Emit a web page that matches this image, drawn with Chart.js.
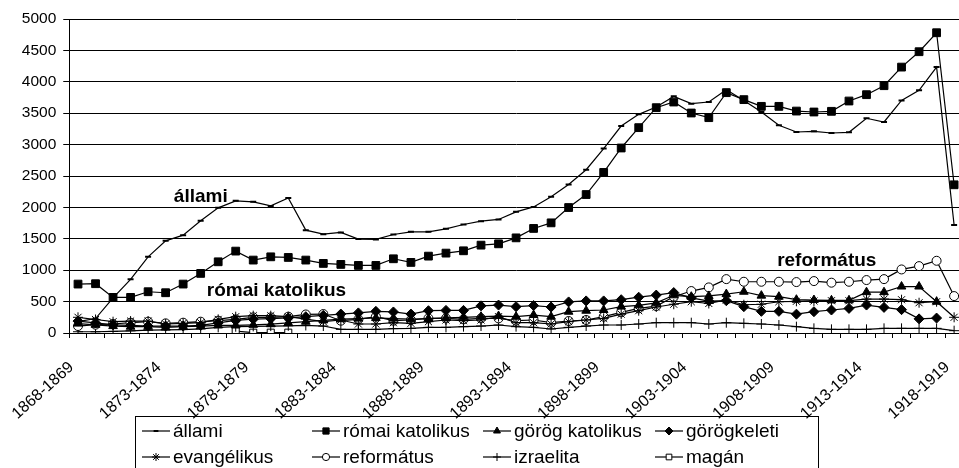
<!DOCTYPE html>
<html>
<head>
<meta charset="utf-8">
<script src="https://cdn.jsdelivr.net/npm/chart.js@4.4.1/dist/chart.umd.min.js"></script>
<style>
  html, body { margin: 0; padding: 0; overflow: hidden; background: #fff; }
  #wrap { position: relative; width: 981px; height: 468px; }
</style>
</head>
<body>
<div id="wrap"><canvas id="chart"></canvas></div>
<script>
const years = [
  '1868-1869', '1869-1870', '1870-1871', '1871-1872', '1872-1873', '1873-1874', '1874-1875', '1875-1876', '1876-1877', '1877-1878',
  '1878-1879', '1879-1880', '1880-1881', '1881-1882', '1882-1883', '1883-1884', '1884-1885', '1885-1886', '1886-1887', '1887-1888',
  '1888-1889', '1889-1890', '1890-1891', '1891-1892', '1892-1893', '1893-1894', '1894-1895', '1895-1896', '1896-1897', '1897-1898',
  '1898-1899', '1899-1900', '1900-1901', '1901-1902', '1902-1903', '1903-1904', '1904-1905', '1905-1906', '1906-1907', '1907-1908',
  '1908-1909', '1909-1910', '1910-1911', '1911-1912', '1912-1913', '1913-1914', '1914-1915', '1915-1916', '1916-1917', '1917-1918',
  '1918-1919'
];

const allami = [180, 230, 560, 854, 1213, 1468, 1558, 1786, 1993, 2104,
  2088, 2024, 2151, 1638, 1574, 1601, 1495, 1490, 1569, 1611,
  1611, 1659, 1728, 1781, 1808, 1929, 2008, 2168, 2364, 2600,
  2936, 3296, 3482, 3598, 3768, 3652, 3678, 3875, 3704, 3519,
  3307, 3201, 3212, 3185, 3196, 3419, 3360, 3704, 3864, 4234,
  1720];
const romaiKat = [779, 785, 567, 567, 657, 641, 779, 949, 1134, 1304,
  1161, 1213, 1203, 1161, 1108, 1092, 1076, 1076, 1182, 1124,
  1224, 1272, 1309, 1399, 1420, 1515, 1665, 1754, 1998, 2205,
  2557, 2946, 3270, 3588, 3678, 3503, 3429, 3827, 3716, 3609,
  3609, 3534, 3519, 3530, 3694, 3795, 3938, 4234, 4479, 4781,
  2360];
const gorogKat = [150, 130, 110, 100, 100, 90, 100, 110, 120, 120,
  130, 140, 160, 180, 200, 220, 230, 240, 230, 220,
  230, 240, 250, 260, 270, 260, 286, 260, 339, 355,
  366, 420, 440, 480, 600, 578, 590, 620, 657, 595,
  578, 530, 525, 520, 520, 650, 650, 740, 740, 498,
  null];
const gorogkeleti = [190, 160, 130, 120, 110, 110, 110, 120, 160, 200,
  220, 230, 240, 260, 280, 302, 320, 345, 335, 302,
  355, 360, 360, 432, 445, 419, 437, 414, 495, 511,
  511, 530, 570, 604, 644, 560, 509, 514, 419, 345,
  345, 300, 339, 366, 392, 445, 408, 372, 225, 238,
  null];
const evangelikus = [250, 215, 180, 190, 190, 143, 154, 164, 217, 260,
  276, 276, 260, 220, 180, 207, 143, 143, 164, 154,
  180, 207, 196, 207, 260, 164, 164, 143, 180, 207,
  233, 300, 355, 414, 458, 498, 470, 525, 450, 458,
  498, 505, 510, 514, 514, 540, 540, 530, 482, 498,
  250];
const reformatus = [111, 132, 143, 164, 180, 154, 164, 180, 196, 217,
  249, 249, 260, 295, 302, 196, 217, 260, 196, 207,
  233, 233, 217, 233, 233, 196, 207, 164, 191, 207,
  260, 329, 392, 429, 578, 668, 726, 858, 816, 816,
  816, 811, 827, 801, 816, 843, 858, 1012, 1065, 1150,
  588];
const izraelita = [20, 20, 25, 35, 45, 50, 55, 65, 90, 100,
  105, 110, 115, 120, 111, 58, 58, 58, 70, 74,
  90, 90, 101, 111, 127, 101, 90, 64, 90, 111,
  127, 127, 143, 164, 164, 164, 143, 164, 154, 143,
  127, 101, 74, 58, 58, 58, 74, 74, 74, 74,
  37];
const magan = [null, null, null, null, null, null, null, null, null, 30,
  5, 5, 5, null, null, null, null, null, null, null,
  null, null, null, null, null, null, null, null, null, null,
  null, null, null, null, null, null, null, null, null, null,
  null, null, null, null, null, null, null, null, null, null,
  null];

const seriesNames = ['állami', 'római katolikus', 'görög katolikus', 'görögkeleti',
  'evangélikus', 'református', 'izraelita', 'magán'];
const noteTexts = ['állami', 'római katolikus', 'református'];

const FONT = '"Liberation Sans", Arial, sans-serif';

function series(label, data, style, radius, fill) {
  return {
    label, data,
    borderColor: '#000',
    borderWidth: 1.2,
    pointStyle: style,
    pointRadius: radius,
    pointHoverRadius: radius,
    pointBackgroundColor: fill,
    pointBorderColor: '#000',
    pointBorderWidth: style === 'line' ? 2 : 1,
    tension: 0,
    spanGaps: false
  };
}

// legend drawn as a boxed 4-column grid, like the original
const gridLegend = {
  id: 'gridLegend',
  afterDraw(chart) {
    const ctx = chart.ctx;
    ctx.save();
    ctx.strokeStyle = '#000';
    ctx.lineWidth = 1;
    ctx.strokeRect(135.5, 416.5, 683, 80);
    ctx.font = '19px ' + FONT;
    ctx.textBaseline = 'middle';
    const cols = [142, 312, 483, 655], rows = [431, 457];
    chart.data.datasets.forEach((ds, k) => {
      const x = cols[k % 4], y = rows[Math.floor(k / 4)];
      ctx.strokeStyle = '#000';
      ctx.lineWidth = 1.2;
      ctx.beginPath();
      ctx.moveTo(x, y);
      ctx.lineTo(x + 28, y);
      ctx.stroke();
      ctx.fillStyle = ds.pointBackgroundColor;
      ctx.lineWidth = ds.pointBorderWidth;
      Chart.helpers.drawPoint(ctx, {
        pointStyle: ds.pointStyle,
        radius: ds.pointRadius * 0.8,
        rotation: 0,
        borderWidth: ds.pointBorderWidth
      }, x + 14, y);
      ctx.fillStyle = '#000';
      ctx.fillText(ds.label, x + 31, y + 1);
    });
    ctx.restore();
  }
};

// bold series names written inside the plot
const seriesNotes = {
  id: 'seriesNotes',
  afterDatasetsDraw(chart) {
    const { ctx, scales: { x, y } } = chart;
    const spots = [[5.47, 2083], [7.35, 588], [39.9, 1065]];
    ctx.save();
    ctx.font = 'bold 19px ' + FONT;
    ctx.fillStyle = '#000';
    ctx.textBaseline = 'alphabetic';
    noteTexts.forEach((t, i) => {
      ctx.fillText(t, x.getPixelForValue(spots[i][0]), y.getPixelForValue(spots[i][1]));
    });
    ctx.restore();
  }
};

new Chart(document.getElementById('chart'), {
  type: 'line',
  data: {
    labels: years,
    datasets: [
      series(seriesNames[0], allami, 'line', 3, '#000'),
      series(seriesNames[1], romaiKat, 'rect', 5.5, '#000'),
      series(seriesNames[2], gorogKat, 'triangle', 5, '#000'),
      series(seriesNames[3], gorogkeleti, 'rectRot', 5, '#000'),
      series(seriesNames[4], evangelikus, 'star', 5, '#000'),
      series(seriesNames[5], reformatus, 'circle', 4.5, '#fff'),
      series(seriesNames[6], izraelita, 'cross', 5, '#000'),
      series(seriesNames[7], magan, 'rect', 5, '#fff')
    ]
  },
  options: {
    responsive: true,
    maintainAspectRatio: false,
    animation: false,
    devicePixelRatio: 1,
    layout: { padding: { top: 19, right: 0, left: 0, bottom: 0 } },
    plugins: {
      legend: { display: false },
      tooltip: { enabled: false }
    },
    scales: {
      x: {
        offset: true,
        afterFit: s => { s.height = 135; },
        grid: { offset: true, drawOnChartArea: false, drawTicks: true, tickLength: 5, color: '#000' },
        border: { display: true, color: '#000', width: 1 },
        ticks: {
          autoSkip: false,
          minRotation: 42,
          maxRotation: 42,
          padding: 14,
          color: '#000',
          font: { family: FONT, size: 16 },
          // trailing spaces push the rotated label down-left, under its tick
          callback: (v, i) => (i % 5 === 0 ? years[i] + '  ' : '')
        }
      },
      y: {
        min: 0,
        max: 5000,
        afterFit: s => { s.width = 67; },
        grid: { color: '#000', lineWidth: 1, tickLength: 6 },
        border: { display: true, color: '#000', width: 1 },
        ticks: {
          stepSize: 500,
          padding: 7,
          color: '#000',
          font: { family: FONT, size: 15.5 },
          callback: v => String(v)
        }
      }
    }
  },
  plugins: [gridLegend, seriesNotes]
});
</script>
</body>
</html>
